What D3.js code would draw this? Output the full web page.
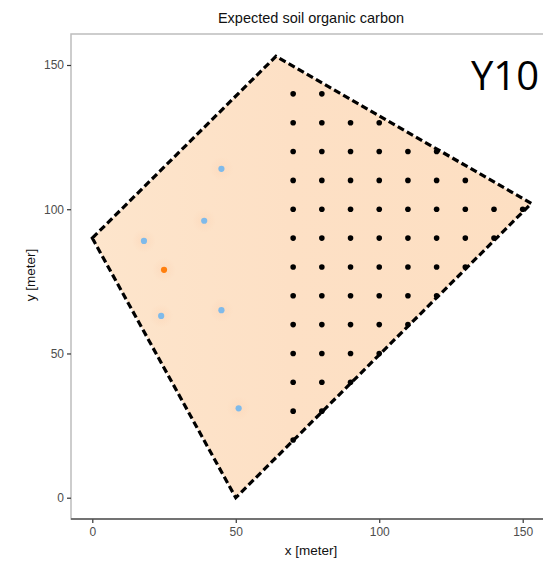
<!DOCTYPE html>
<html>
<head>
<meta charset="utf-8">
<script src="https://cdn.jsdelivr.net/npm/d3@7"></script>
<style>
  body { margin: 0; background: #fff; }
  svg { display: block; font-family: Arial, "Liberation Sans", sans-serif; }
</style>
</head>
<body>
<script>
// field boundary (meters)
var boundaryX = [0, 64, 153, 50];
var boundaryY = [90, 153, 102, 0];

// regular sampling grid, one entry per column
var gridX = [70, 80, 90, 100, 110, 120, 130, 140, 150];
var gridY = [
  [20, 30, 40, 50, 60, 70, 80, 90, 100, 110, 120, 130, 140],
  [30, 40, 50, 60, 70, 80, 90, 100, 110, 120, 130, 140],
  [40, 50, 60, 70, 80, 90, 100, 110, 120, 130],
  [50, 60, 70, 80, 90, 100, 110, 120, 130],
  [60, 70, 80, 90, 100, 110, 120],
  [70, 80, 90, 100, 110, 120],
  [80, 90, 100, 110],
  [90, 100],
  [100]
];

// observed samples
var sampleX = [45, 39, 18, 24, 45, 51];
var sampleY = [114, 96, 89, 63, 65, 31];

// highlighted sample
var hiX = [25];
var hiY = [79];

var xTicks = [0, 50, 100, 150];
var yTicks = [0, 50, 100, 150];

var title = "Expected soil organic carbon";
var tag = "Y10";

//--------------------------------------
// Layout
//--------------------------------------

var W = 543, H = 568;
var panel = {left: 71, top: 34, right: 560, bottom: 519};

var x = d3.scaleLinear().domain([0, 150]).range([92.3, 522.7]);
var y = d3.scaleLinear().domain([0, 150]).range([497.7, 65]);

var svg = d3.select("body").append("svg")
  .attr("width", W)
  .attr("height", H);

var defs = svg.append("defs");
var grad = defs.append("linearGradient")
  .attr("id", "fillGrad")
  .attr("x1", 0).attr("x2", 1).attr("y1", 0).attr("y2", 0);
grad.append("stop").attr("offset", 0).attr("stop-color", "#fde5cc");
grad.append("stop").attr("offset", 0.45).attr("stop-color", "#fde0c5");
grad.append("stop").attr("offset", 1).attr("stop-color", "#fddfc2");

var halo = defs.append("radialGradient").attr("id", "halo");
halo.append("stop").attr("offset", 0).attr("stop-color", "#fcd9bc").attr("stop-opacity", 0.8);
halo.append("stop").attr("offset", 1).attr("stop-color", "#fcd9bc").attr("stop-opacity", 0);

// panel border
svg.append("rect")
  .attr("x", panel.left)
  .attr("y", panel.top)
  .attr("width", panel.right - panel.left)
  .attr("height", panel.bottom - panel.top)
  .attr("fill", "#fff")
  .attr("stroke", "#bdbdbd")
  .attr("stroke-width", 1.5);

// polygon
var poly = boundaryX.map(function(d, i) { return [x(d), y(boundaryY[i])]; });
var polyPoints = poly.map(function(p) { return p.join(","); }).join(" ");

svg.append("polygon")
  .attr("points", polyPoints)
  .attr("fill", "url(#fillGrad)");

// faint halos round the samples
var allSamples = sampleX.map(function(d, i) { return [d, sampleY[i]]; })
  .concat(hiX.map(function(d, i) { return [d, hiY[i]]; }));

svg.selectAll(".halo")
  .data(allSamples)
  .enter().append("circle")
  .attr("class", "halo")
  .attr("cx", function(d) { return x(d[0]); })
  .attr("cy", function(d) { return y(d[1]); })
  .attr("r", 12)
  .attr("fill", "url(#halo)");

svg.append("polygon")
  .attr("points", polyPoints)
  .attr("fill", "none")
  .attr("stroke", "#000")
  .attr("stroke-width", 3.2)
  .attr("stroke-dasharray", "7,3.5")
  .attr("stroke-linejoin", "miter");

// grid points
var grid = [];
gridX.forEach(function(gx, i) {
  gridY[i].forEach(function(gy) { grid.push([gx, gy]); });
});

svg.selectAll(".grid")
  .data(grid)
  .enter().append("circle")
  .attr("class", "grid")
  .attr("cx", function(d) { return x(d[0]); })
  .attr("cy", function(d) { return y(d[1]); })
  .attr("r", 2.8)
  .attr("fill", "#000");

svg.selectAll(".sample")
  .data(sampleX)
  .enter().append("circle")
  .attr("class", "sample")
  .attr("cx", function(d) { return x(d); })
  .attr("cy", function(d, i) { return y(sampleY[i]); })
  .attr("r", 3.1)
  .attr("fill", "#7fbaea");

svg.selectAll(".hi")
  .data(hiX)
  .enter().append("circle")
  .attr("class", "hi")
  .attr("cx", function(d) { return x(d); })
  .attr("cy", function(d, i) { return y(hiY[i]); })
  .attr("r", 3.1)
  .attr("fill", "#ff7f0e");

//--------------------------------------
// Axes
//--------------------------------------

var xAxis = svg.append("g")
  .attr("transform", "translate(0," + panel.bottom + ")")
  .call(d3.axisBottom(x).tickValues(xTicks).tickSize(4).tickPadding(4));

var yAxis = svg.append("g")
  .attr("transform", "translate(" + panel.left + ",0)")
  .call(d3.axisLeft(y).tickValues(yTicks).tickSize(4).tickPadding(3));

[xAxis, yAxis].forEach(function(a) {
  a.select(".domain").remove();
  a.selectAll(".tick line").attr("stroke", "#333").attr("stroke-width", 1.2);
  a.selectAll(".tick text")
    .attr("fill", "#4d4d4d")
    .style("font-size", "12px")
    .style("font-family", "Arial, 'Liberation Sans', sans-serif");
});

svg.append("line")
  .attr("x1", panel.left).attr("x2", W)
  .attr("y1", panel.bottom).attr("y2", panel.bottom)
  .attr("stroke", "#555")
  .attr("stroke-width", 1.5);

//--------------------------------------
// Text
//--------------------------------------

svg.append("text")
  .attr("x", 311)
  .attr("y", 23)
  .attr("text-anchor", "middle")
  .attr("fill", "#111")
  .style("font-size", "14.5px")
  .text(title);

svg.append("text")
  .attr("x", 311)
  .attr("y", 555)
  .attr("text-anchor", "middle")
  .attr("fill", "#111")
  .style("font-size", "13.5px")
  .text("x [meter]");

svg.append("text")
  .attr("transform", "translate(35," + 275 + ") rotate(-90)")
  .attr("text-anchor", "middle")
  .attr("fill", "#111")
  .style("font-size", "13.5px")
  .text("y [meter]");

svg.append("text")
  .attr("x", 539)
  .attr("y", 90)
  .attr("text-anchor", "end")
  .attr("fill", "#000")
  .style("font-family", "'Open Sans', sans-serif")
  .style("font-size", "40px")
  .text(tag);
</script>
</body>
</html>
